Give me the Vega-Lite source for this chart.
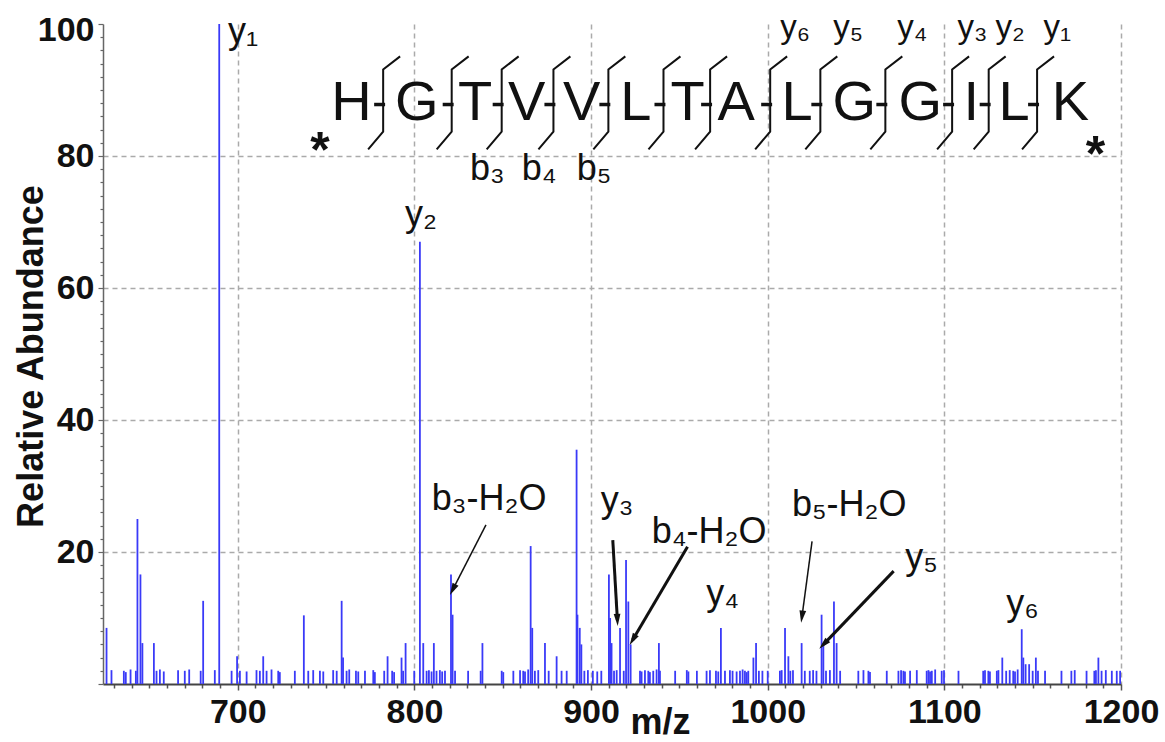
{
"$schema": "https://vega.github.io/schema/vega-lite/v6.json",
"width": 1018, "height": 660,
"autosize": {"type": "none"},
"padding": {"left": 103, "top": 24, "right": 44, "bottom": 58},
"background": "white",
"config": {"view": {"stroke": null}, "font": "Liberation Sans"},
"datasets": {
"spectrum": [
{"mz":625.7,"ab":8.5},{"mz":628.5,"ab":2.1},{"mz":635.5,"ab":2.0},{"mz":636.6,"ab":1.8},{"mz":639.3,"ab":2.2},{"mz":642.3,"ab":2.0},{"mz":643.2,"ab":25.0},{"mz":644.9,"ab":16.6},{"mz":646.0,"ab":6.2},{"mz":652.5,"ab":6.2},{"mz":654.0,"ab":2.0},{"mz":655.9,"ab":2.2},{"mz":658.1,"ab":1.9},{"mz":666.2,"ab":2.1},{"mz":670.0,"ab":2.0},{"mz":672.5,"ab":2.2},{"mz":679.0,"ab":2.0},{"mz":680.4,"ab":12.6},{"mz":687.0,"ab":2.1},{"mz":689.5,"ab":100},{"mz":696.5,"ab":2.0},{"mz":699.6,"ab":4.2},{"mz":701.2,"ab":2.0},{"mz":705.0,"ab":1.9},{"mz":710.6,"ab":2.1},{"mz":712.5,"ab":2.0},{"mz":714.4,"ab":4.2},{"mz":716.3,"ab":2.0},{"mz":719.1,"ab":2.2},{"mz":722.9,"ab":2.0},{"mz":723.8,"ab":1.8},{"mz":732.3,"ab":2.0},{"mz":737.4,"ab":10.4},{"mz":739.9,"ab":2.0},{"mz":742.7,"ab":2.1},{"mz":746.5,"ab":2.0},{"mz":748.4,"ab":1.9},{"mz":754.0,"ab":2.1},{"mz":756.0,"ab":2.0},{"mz":758.8,"ab":12.6},{"mz":759.6,"ab":4.0},{"mz":761.6,"ab":2.0},{"mz":763.1,"ab":2.2},{"mz":766.9,"ab":2.0},{"mz":768.2,"ab":1.9},{"mz":772.0,"ab":2.0},{"mz":776.7,"ab":2.1},{"mz":777.6,"ab":1.8},{"mz":782.9,"ab":2.0},{"mz":784.8,"ab":4.2},{"mz":787.4,"ab":2.0},{"mz":788.5,"ab":1.8},{"mz":792.7,"ab":4.0},{"mz":793.6,"ab":2.0},{"mz":795.0,"ab":6.2},{"mz":799.9,"ab":2.0},{"mz":803.1,"ab":67},{"mz":805.0,"ab":6.2},{"mz":806.9,"ab":2.0},{"mz":808.2,"ab":2.1},{"mz":809.7,"ab":1.9},{"mz":811.0,"ab":6.2},{"mz":812.5,"ab":2.0},{"mz":814.4,"ab":2.1},{"mz":815.7,"ab":1.9},{"mz":817.3,"ab":2.0},{"mz":820.7,"ab":16.6},{"mz":821.6,"ab":10.5},{"mz":823.0,"ab":2.0},{"mz":830.4,"ab":2.0},{"mz":837.5,"ab":2.0},{"mz":838.5,"ab":6.2},{"mz":849.4,"ab":2.0},{"mz":850.3,"ab":1.8},{"mz":856.0,"ab":2.0},{"mz":859.8,"ab":2.1},{"mz":861.6,"ab":2.0},{"mz":862.6,"ab":1.9},{"mz":864.4,"ab":2.2},{"mz":865.8,"ab":20.9},{"mz":866.7,"ab":8.5},{"mz":868.2,"ab":2.0},{"mz":870.1,"ab":2.1},{"mz":873.9,"ab":6.2},{"mz":876.0,"ab":2.0},{"mz":880.5,"ab":4.2},{"mz":883.3,"ab":2.0},{"mz":886.2,"ab":2.0},{"mz":891.8,"ab":35.5},{"mz":892.3,"ab":10.5},{"mz":893.6,"ab":8.5},{"mz":894.5,"ab":6.0},{"mz":896.2,"ab":2.0},{"mz":898.2,"ab":2.1},{"mz":901.0,"ab":2.0},{"mz":903.5,"ab":1.9},{"mz":905.8,"ab":2.0},{"mz":910.1,"ab":16.6},{"mz":910.8,"ab":10.0},{"mz":911.6,"ab":6.2},{"mz":913.0,"ab":2.0},{"mz":914.5,"ab":2.1},{"mz":916.4,"ab":8.5},{"mz":918.5,"ab":2.0},{"mz":919.8,"ab":18.8},{"mz":921.1,"ab":12.5},{"mz":922.4,"ab":6.0},{"mz":927.7,"ab":2.0},{"mz":928.6,"ab":1.9},{"mz":930.5,"ab":2.1},{"mz":932.4,"ab":2.0},{"mz":933.3,"ab":1.8},{"mz":935.2,"ab":2.0},{"mz":937.1,"ab":2.2},{"mz":938.4,"ab":6.2},{"mz":939.0,"ab":2.0},{"mz":947.6,"ab":2.0},{"mz":954.2,"ab":2.1},{"mz":955.1,"ab":1.9},{"mz":959.9,"ab":2.0},{"mz":965.4,"ab":2.0},{"mz":967.3,"ab":2.1},{"mz":970.7,"ab":2.0},{"mz":972.0,"ab":1.9},{"mz":973.5,"ab":8.5},{"mz":975.8,"ab":2.0},{"mz":978.6,"ab":2.1},{"mz":980.1,"ab":2.0},{"mz":982.4,"ab":1.9},{"mz":984.3,"ab":2.0},{"mz":985.8,"ab":2.2},{"mz":987.1,"ab":2.0},{"mz":988.1,"ab":1.8},{"mz":989.0,"ab":2.0},{"mz":991.9,"ab":4.0},{"mz":993.4,"ab":6.2},{"mz":995.0,"ab":2.0},{"mz":997.0,"ab":2.0},{"mz":1000.0,"ab":2.0},{"mz":1006.9,"ab":2.0},{"mz":1007.9,"ab":2.1},{"mz":1009.8,"ab":8.5},{"mz":1011.7,"ab":4.2},{"mz":1012.8,"ab":2.0},{"mz":1014.3,"ab":2.1},{"mz":1019.2,"ab":6.2},{"mz":1021.0,"ab":2.0},{"mz":1023.8,"ab":2.0},{"mz":1025.7,"ab":2.1},{"mz":1027.6,"ab":2.0},{"mz":1030.5,"ab":10.5},{"mz":1031.5,"ab":6.0},{"mz":1033.0,"ab":2.0},{"mz":1035.2,"ab":2.1},{"mz":1037.5,"ab":12.5},{"mz":1039.0,"ab":6.2},{"mz":1041.0,"ab":2.0},{"mz":1051.3,"ab":2.0},{"mz":1054.2,"ab":2.1},{"mz":1057.0,"ab":2.0},{"mz":1057.9,"ab":1.8},{"mz":1067.4,"ab":2.0},{"mz":1074.0,"ab":2.0},{"mz":1075.5,"ab":2.1},{"mz":1076.8,"ab":2.0},{"mz":1077.7,"ab":1.9},{"mz":1080.6,"ab":2.0},{"mz":1084.4,"ab":2.1},{"mz":1090.0,"ab":2.0},{"mz":1091.0,"ab":2.1},{"mz":1091.9,"ab":1.9},{"mz":1092.9,"ab":2.0},{"mz":1094.8,"ab":2.2},{"mz":1098.5,"ab":2.0},{"mz":1099.8,"ab":2.1},{"mz":1108.0,"ab":2.0},{"mz":1122.0,"ab":2.0},{"mz":1123.0,"ab":2.1},{"mz":1124.9,"ab":2.0},{"mz":1125.8,"ab":1.9},{"mz":1129.7,"ab":2.0},{"mz":1130.6,"ab":2.1},{"mz":1132.8,"ab":4.0},{"mz":1135.0,"ab":2.0},{"mz":1137.0,"ab":2.1},{"mz":1139.0,"ab":2.0},{"mz":1140.0,"ab":1.9},{"mz":1141.5,"ab":2.2},{"mz":1143.8,"ab":8.3},{"mz":1144.7,"ab":4.0},{"mz":1146.0,"ab":3.0},{"mz":1148.0,"ab":3.0},{"mz":1150.0,"ab":2.0},{"mz":1151.8,"ab":4.0},{"mz":1153.0,"ab":2.0},{"mz":1157.0,"ab":2.0},{"mz":1166.3,"ab":2.0},{"mz":1171.9,"ab":2.0},{"mz":1173.8,"ab":2.1},{"mz":1180.5,"ab":2.0},{"mz":1184.9,"ab":2.0},{"mz":1185.8,"ab":2.1},{"mz":1187.2,"ab":4.0},{"mz":1189.0,"ab":2.0},{"mz":1191.4,"ab":2.1},{"mz":1194.8,"ab":2.0},{"mz":1197.6,"ab":2.0},{"mz":1199.5,"ab":2.0}
],
"brackets": [
{"cut":1,"pt":1,"mz":773.8,"ab":81.0},{"cut":1,"pt":2,"mz":782.3,"ab":83.7},{"cut":1,"pt":3,"mz":782.3,"ab":93.1},{"cut":1,"pt":4,"mz":791.9,"ab":95.1},
{"cut":2,"pt":1,"mz":812.6,"ab":81.0},{"cut":2,"pt":2,"mz":821.1,"ab":83.7},{"cut":2,"pt":3,"mz":821.1,"ab":93.1},{"cut":2,"pt":4,"mz":830.7,"ab":95.1},
{"cut":3,"pt":1,"mz":840.9,"ab":81.0},{"cut":3,"pt":2,"mz":849.4,"ab":83.7},{"cut":3,"pt":3,"mz":849.4,"ab":93.1},{"cut":3,"pt":4,"mz":859.0,"ab":95.1},
{"cut":4,"pt":1,"mz":870.2,"ab":81.0},{"cut":4,"pt":2,"mz":878.7,"ab":83.7},{"cut":4,"pt":3,"mz":878.7,"ab":93.1},{"cut":4,"pt":4,"mz":888.3,"ab":95.1},
{"cut":5,"pt":1,"mz":901.3,"ab":81.0},{"cut":5,"pt":2,"mz":909.8,"ab":83.7},{"cut":5,"pt":3,"mz":909.8,"ab":93.1},{"cut":5,"pt":4,"mz":919.4,"ab":95.1},
{"cut":6,"pt":1,"mz":932.5,"ab":81.0},{"cut":6,"pt":2,"mz":941.0,"ab":83.7},{"cut":6,"pt":3,"mz":941.0,"ab":93.1},{"cut":6,"pt":4,"mz":950.6,"ab":95.1},
{"cut":7,"pt":1,"mz":958.9,"ab":81.0},{"cut":7,"pt":2,"mz":967.4,"ab":83.7},{"cut":7,"pt":3,"mz":967.4,"ab":93.1},{"cut":7,"pt":4,"mz":977.0,"ab":95.1},
{"cut":8,"pt":1,"mz":992.9,"ab":81.0},{"cut":8,"pt":2,"mz":1001.4,"ab":83.7},{"cut":8,"pt":3,"mz":1001.4,"ab":93.1},{"cut":8,"pt":4,"mz":1011.0,"ab":95.1},
{"cut":9,"pt":1,"mz":1021.3,"ab":81.0},{"cut":9,"pt":2,"mz":1029.8,"ab":83.7},{"cut":9,"pt":3,"mz":1029.8,"ab":93.1},{"cut":9,"pt":4,"mz":1039.4,"ab":95.1},
{"cut":10,"pt":1,"mz":1058.1,"ab":81.0},{"cut":10,"pt":2,"mz":1066.6,"ab":83.7},{"cut":10,"pt":3,"mz":1066.6,"ab":93.1},{"cut":10,"pt":4,"mz":1076.2,"ab":95.1},
{"cut":11,"pt":1,"mz":1095.9,"ab":81.0},{"cut":11,"pt":2,"mz":1104.4,"ab":83.7},{"cut":11,"pt":3,"mz":1104.4,"ab":93.1},{"cut":11,"pt":4,"mz":1114.0,"ab":95.1},
{"cut":12,"pt":1,"mz":1116.6,"ab":81.0},{"cut":12,"pt":2,"mz":1125.1,"ab":83.7},{"cut":12,"pt":3,"mz":1125.1,"ab":93.1},{"cut":12,"pt":4,"mz":1134.7,"ab":95.1},
{"cut":13,"pt":1,"mz":1144.0,"ab":81.0},{"cut":13,"pt":2,"mz":1152.5,"ab":83.7},{"cut":13,"pt":3,"mz":1152.5,"ab":93.1},{"cut":13,"pt":4,"mz":1162.1,"ab":95.1}
],
"bonds": [
{"mz":777.2,"mz2":783.4,"ab":87.8},{"mz":816.0,"mz2":822.2,"ab":87.8},{"mz":844.3,"mz2":850.5,"ab":87.8},{"mz":873.6,"mz2":879.8,"ab":87.8},{"mz":904.7,"mz2":910.9,"ab":87.8},{"mz":935.9,"mz2":942.1,"ab":87.8},{"mz":962.3,"mz2":968.5,"ab":87.8},{"mz":996.3,"mz2":1002.5,"ab":87.8},{"mz":1024.7,"mz2":1030.9,"ab":87.8},{"mz":1061.5,"mz2":1067.7,"ab":87.8},{"mz":1099.3,"mz2":1105.5,"ab":87.8},{"mz":1120.0,"mz2":1126.2,"ab":87.8},{"mz":1147.4,"mz2":1153.6,"ab":87.8}
],
"residues": [
{"res":"H","mz":764.4,"ab":85.4},{"res":"G","mz":801.3,"ab":85.4},{"res":"T","mz":834.3,"ab":85.4},{"res":"V","mz":863.6,"ab":85.4},{"res":"V","mz":894.7,"ab":85.4},{"res":"L","mz":925.4,"ab":85.4},{"res":"T","mz":954.7,"ab":85.4},{"res":"A","mz":982.2,"ab":85.4},{"res":"L","mz":1016.6,"ab":85.4},{"res":"G","mz":1049.0,"ab":85.4},{"res":"G","mz":1086.4,"ab":85.4},{"res":"I","mz":1115.3,"ab":85.4},{"res":"L","mz":1139.4,"ab":85.4},{"res":"K","mz":1171.4,"ab":85.4}
],
"seqions": [
{"lab":"y₆","mz":1007.1,"ab":97.9},{"lab":"y₅","mz":1037.1,"ab":97.9},{"lab":"y₄","mz":1073.4,"ab":97.9},{"lab":"y₃","mz":1107.4,"ab":97.9},{"lab":"y₂","mz":1128.9,"ab":97.9},{"lab":"y₁","mz":1156.1,"ab":97.9}
],
"peaklabels": [
{"lab":"b₃","mz":831.5,"ab":76.4},{"lab":"b₄","mz":860.7,"ab":76.4},{"lab":"b₅","mz":891.9,"ab":76.4},
{"lab":"y₁","mz":694.5,"ab":97.1},{"lab":"y₂","mz":794.6,"ab":69.4},{"lab":"b₃-H₂O","mz":809.8,"ab":26.4},{"lab":"y₃","mz":905.5,"ab":26.1},{"lab":"b₄-H₂O","mz":934.4,"ab":21.3},{"lab":"y₄","mz":965.2,"ab":12.0},{"lab":"b₅-H₂O","mz":1013.7,"ab":25.5},{"lab":"y₅","mz":1077.9,"ab":17.5},{"lab":"y₆","mz":1135.1,"ab":10.4}
],
"termini": [
{"lab":"*","mz":746.5,"ab":78.4},{"lab":"*","mz":1185.6,"ab":77.7}
],
"arrows": [
{"ion":"b3-H2O","mz":840.5,"ab":24.1,"mz2":821.7,"ab2":14.3,"weight":"thin","ang":207},
{"ion":"y3","mz":912.3,"ab":21.8,"mz2":914.9,"ab2":9.7,"weight":"thick","ang":177},
{"ion":"b4-H2O","mz":954.6,"ab":20.8,"mz2":923.6,"ab2":6.7,"weight":"thick","ang":210},
{"ion":"b5-H2O","mz":1025.1,"ab":21.6,"mz2":1019.4,"ab2":10.2,"weight":"thin","ang":188},
{"ion":"y5","mz":1071.3,"ab":17.1,"mz2":1031.6,"ab2":6.0,"weight":"thick","ang":224}
]
},
"layer": [
{"data":{"name":"spectrum"},
 "mark":{"type":"rule","color":"#3a3af8","strokeWidth":1.8},
 "encoding":{
  "x":{"field":"mz","type":"quantitative","scale":{"domain":[623.7,1200],"nice":false,"zero":false},
   "axis":{"title":"m/z","titleFont":"Liberation Sans","titleFontSize":36,"titleFontWeight":"bold","titleColor":"#111","titleX":557,"titleY":49,"titleBaseline":"alphabetic","titleAlign":"center",
    "tickCount":500,
    "values":[630,640,650,660,670,680,690,700,710,720,730,740,750,760,770,780,790,800,810,820,830,840,850,860,870,880,890,900,910,920,930,940,950,960,970,980,990,1000,1010,1020,1030,1040,1050,1060,1070,1080,1090,1100,1110,1120,1130,1140,1150,1160,1170,1180,1190,1200],
    "format":"d","labelExpr":"datum.value % 100 === 0 ? datum.label : ''",
    "labelFont":"Liberation Sans","labelFontSize":34,"labelFontWeight":"bold","labelColor":"#111","labelPadding":5,"labelFlush":false,"labelOverlap":false,"labelBound":false,
    "tickSize":{"condition":{"test":"datum.value % 100 === 0","value":6},"value":4},"tickColor":"#555","tickWidth":1.5,
    "domainColor":"#444","domainWidth":2,
    "grid":true,"gridDash":[5,4],"gridColor":"#aaaaaa","gridWidth":1.5,
    "gridOpacity":{"condition":{"test":"datum.value % 100 === 0","value":1},"value":0}}},
  "y":{"field":"ab","type":"quantitative","scale":{"domain":[0,100],"nice":false},
   "axis":{"title":"Relative Abundance","titleFont":"Liberation Sans","titleFontSize":36,"titleFontWeight":"bold","titleColor":"#111","titleX":-61,"titleY":332,"titleBaseline":"alphabetic","titleAlign":"center","titleAngle":-90,
    "tickCount":500,
    "values":[0,2,4,6,8,10,12,14,16,18,20,22,24,26,28,30,32,34,36,38,40,42,44,46,48,50,52,54,56,58,60,62,64,66,68,70,72,74,76,78,80,82,84,86,88,90,92,94,96,98,100],
    "format":"d","labelExpr":"datum.value % 20 === 0 && datum.value > 0 ? datum.label : ''",
    "labelFont":"Liberation Sans","labelFontSize":34,"labelFontWeight":"bold","labelColor":"#111","labelPadding":4,"labelOverlap":false,"labelBound":false,"labelFlush":false,
    "labelOffset":{"condition":{"test":"datum.value === 100","value":6},"value":0},
    "tickSize":{"condition":{"test":"datum.value % 20 === 0","value":5},"value":3},"tickColor":"#666","tickWidth":1.2,
    "domainColor":"#666","domainWidth":1.5,
    "grid":true,"gridDash":[5,4],"gridColor":"#aaaaaa","gridWidth":1.5,
    "gridOpacity":{"condition":{"test":"datum.value % 20 === 0 && datum.value > 0 && datum.value < 100","value":1},"value":0}}},
  "y2":{"datum":0}
 }},
{"data":{"name":"brackets"},
 "mark":{"type":"line","color":"#111","strokeWidth":2},
 "encoding":{"x":{"field":"mz","type":"quantitative"},"y":{"field":"ab","type":"quantitative"},"detail":{"field":"cut","type":"nominal"},"order":{"field":"pt","type":"quantitative"}}},
{"data":{"name":"bonds"},
 "mark":{"type":"rule","color":"#111","strokeWidth":3.5},
 "encoding":{"x":{"field":"mz","type":"quantitative"},"x2":{"field":"mz2"},"y":{"field":"ab","type":"quantitative"}}},
{"data":{"name":"residues"},
 "mark":{"type":"text","font":"Liberation Sans","fontSize":56,"align":"center","baseline":"alphabetic","color":"#111"},
 "encoding":{"x":{"field":"mz","type":"quantitative"},"y":{"field":"ab","type":"quantitative"},"text":{"field":"res"}}},
{"data":{"name":"seqions"},
 "mark":{"type":"text","font":"Liberation Sans","fontSize":33,"align":"left","baseline":"alphabetic","color":"#111"},
 "encoding":{"x":{"field":"mz","type":"quantitative"},"y":{"field":"ab","type":"quantitative"},"text":{"field":"lab"}}},
{"data":{"name":"peaklabels"},
 "mark":{"type":"text","font":"Liberation Sans","fontSize":36,"align":"left","baseline":"alphabetic","color":"#111"},
 "encoding":{"x":{"field":"mz","type":"quantitative"},"y":{"field":"ab","type":"quantitative"},"text":{"field":"lab"}}},
{"data":{"name":"termini"},
 "mark":{"type":"text","font":"Liberation Sans","fontSize":50,"fontWeight":"bold","align":"center","baseline":"alphabetic","color":"#111"},
 "encoding":{"x":{"field":"mz","type":"quantitative"},"y":{"field":"ab","type":"quantitative"},"text":{"field":"lab"}}},
{"data":{"name":"arrows"},
 "mark":{"type":"rule","color":"#111"},
 "encoding":{"x":{"field":"mz","type":"quantitative"},"y":{"field":"ab","type":"quantitative"},"x2":{"field":"mz2"},"y2":{"field":"ab2"},
  "strokeWidth":{"field":"weight","type":"nominal","scale":{"domain":["thin","thick"],"range":[1.5,3]},"legend":null}}},
{"data":{"name":"arrows"},
 "mark":{"type":"point","shape":"M0,-1L0.55,1L-0.55,1Z","filled":true,"color":"#111","size":150,"opacity":1},
 "encoding":{"x":{"field":"mz2","type":"quantitative"},"y":{"field":"ab2","type":"quantitative"},"angle":{"field":"ang","type":"quantitative","scale":null}}}
]
}
